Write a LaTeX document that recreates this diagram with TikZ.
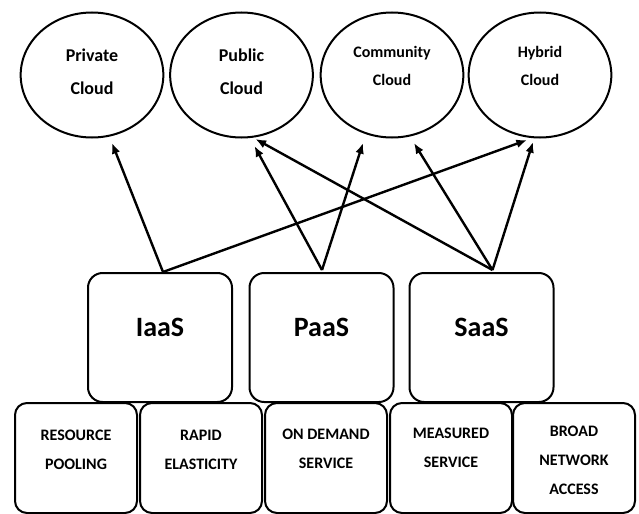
\documentclass[tikz,border=0pt]{standalone}
\usepackage{fontspec}
\setmainfont{Carlito}
\usetikzlibrary{shapes.geometric,arrows.meta,calc}
\begin{document}
\begin{tikzpicture}[x=0.75pt,y=-0.75pt,
  cloud/.style={draw,ellipse,line width=1.5pt,minimum width=107pt,minimum height=93.75pt,inner sep=0pt},
  svc/.style={draw,rounded corners=11pt,line width=1.5pt,minimum width=108pt,minimum height=96.75pt,inner sep=0pt},
  feat/.style={draw,rounded corners=9pt,line width=1.5pt,minimum width=91.5pt,minimum height=82.5pt,inner sep=0pt},
  cloudtxt/.style={align=center,inner sep=0pt,font=\fontsize{13.5}{24.75}\selectfont\bfseries},
  cloudtxtb/.style={align=center,inner sep=0pt,font=\fontsize{12}{21}\selectfont\bfseries},
  svctxt/.style={inner sep=0pt,font=\fontsize{21}{25}\selectfont\bfseries},
  feattxt/.style={align=center,inner sep=0pt,font=\fontsize{12}{21.75}\selectfont\bfseries},
  arr/.style={line width=1.8pt,-{Latex[length=8pt,width=6.5pt]}}]
\useasboundingbox (0,0) rectangle (639,514);
% clouds
\node[cloud] (priv) at (92,75) {};
\node[cloud] (pub) at (241.5,75) {};
\node[cloud] (comm) at (392,75) {};
\node[cloud] (hyb) at (540,75) {};
\node[cloudtxt] (privt) at (92,71.5) {Private\\Cloud};
\node[cloudtxt] (pubt) at (241.5,71.5) {Public\\Cloud};
\node[cloudtxtb] (commt) at (392,66) {Community\\Cloud};
\node[cloudtxtb] (hybt) at (540,66) {Hybrid\\Cloud};
% service models
\node[svc] (iaas) at (160,337.5) {};
\node[svc] (paas) at (321.5,337.5) {};
\node[svc] (saas) at (481.5,337.5) {};
\node[svctxt] (iaast) at (160,327) {IaaS};
\node[svctxt] (paast) at (321.5,327) {PaaS};
\node[svctxt] (saast) at (481.5,327) {SaaS};
% characteristics
\node[feat] (rp) at (76,458) {};
\node[feat] (re) at (201,458) {};
\node[feat] (od) at (326,458) {};
\node[feat] (ms) at (451,458) {};
\node[feat] (bn) at (574,458) {};
\node[feattxt] (rpt) at (76,449.5) {RESOURCE\\POOLING};
\node[feattxt] (ret) at (201,449.5) {RAPID\\ELASTICITY};
\node[feattxt] (odt) at (326,448.5) {ON DEMAND\\SERVICE};
\node[feattxt] (mst) at (451,448) {MEASURED\\SERVICE};
\node[feattxt] (bnt) at (574,460) {BROAD\\NETWORK\\ACCESS};
% arrows
\draw[arr] ($(iaas.north)+(3,0)$) -- ($(priv.center)+(20,68)$);
\draw[arr] ($(iaas.north)+(3,0)$) -- ($(hyb.center)+(-13,65)$);
\draw[arr] ($(paas.north)+(0.5,-2)$) -- ($(pub.center)+(13,71)$);
\draw[arr] ($(paas.north)+(0.5,-2)$) -- ($(comm.center)+(-29,68)$);
\draw[arr] ($(saas.north)+(11,-2)$) -- ($(pub.center)+(14,64)$);
\draw[arr] ($(saas.north)+(11,-2)$) -- ($(comm.center)+(22,68)$);
\draw[arr] ($(saas.north)+(11,-2)$) -- ($(hyb.center)+(-7,67)$);
\end{tikzpicture}
\end{document}
